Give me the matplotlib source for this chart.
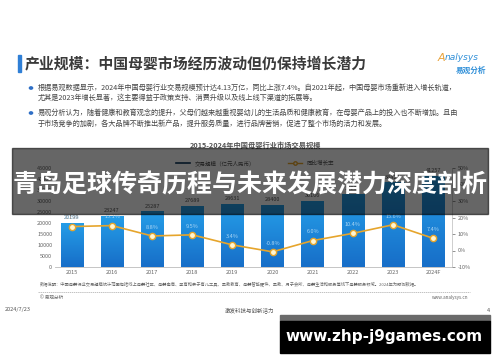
import matplotlib
matplotlib.use("Agg")
import matplotlib.pyplot as plt
from matplotlib.patches import Rectangle
from matplotlib.lines import Line2D
import numpy as np

plt.rcParams['font.family'] = ['Noto Sans CJK SC', 'DejaVu Sans']

# Data
years = ["2015", "2016", "2017", "2018", "2019", "2020", "2021", "2022", "2023", "2024F"]
scale = [20199, 23247, 25287, 27689, 28631, 28400, 30106, 33237, 38422, 41257]   # 亿元人民币
growth = [14.5, 15.1, 8.8, 9.5, 3.4, -0.8, 6.0, 10.4, 15.6, 7.4]               # %
left_ticks = [0, 5000, 10000, 15000, 20000, 25000, 30000, 35000, 40000, 45000]
right_ticks = [-10, 0, 10, 20, 30, 40, 50]

slide_title = "产业规模：中国母婴市场经历波动但仍保持增长潜力"
bullets = [
    ["根据易观数据显示，2024年中国母婴行业交易规模预计达4.13万亿，同比上涨7.4%。自2021年起，中国母婴市场重新进入增长轨道，",
     "尤其是2023年增长显著，这主要得益于政策支持、消费升级以及线上线下渠道的拓展等。"],
    ["易观分析认为，随着健康和教育观念的提升，父母们越来越重视婴幼儿的生活品质和健康教育，在母婴产品上的投入也不断增加。且由",
     "于市场竞争的加剧，各大品牌不断推出新产品，提升服务质量，进行品牌营销，促进了整个市场的活力和发展。"],
]
chart_title = "2015-2024年中国母婴行业市场交易规模"
legend_labels = ["交易规模（亿元人民币）", "同比增长率"]
note = ("数据说明：中国母婴行业交易规模统计范围包括线上母婴社区、母婴电商、孕育和亲子育儿工具、早教教育、"
        "母婴智能硬件、早教、月子会所、母婴生活和服务等线下母婴服务领域。2024年为预测数据。")
banner = "青岛足球传奇历程与未来发展潜力深度剖析"
site = "www.zhp-j9games.com"

W, H = 500, 362
fig = plt.figure(figsize=(5, 3.62), dpi=100)
fig.patch.set_facecolor("white")


def fx(px):
    return px / W


def fy(py):
    return 1 - py / H


# ---------- slide header ----------
fig.patches.append(Rectangle((fx(18), fy(72)), fx(3), 17 / H, transform=fig.transFigure,
                             color="#2f7fd6", zorder=2))
fig.text(fx(25), fy(63.5), slide_title, fontsize=10.7, fontweight="bold", color="#3a3a3a",
         va="center", ha="left")
fig.text(fx(445), fy(58), "A", fontsize=8, style="italic", color="#e8a23a",
         ha="right", va="center", family="DejaVu Sans")
fig.text(fx(445), fy(58), "nalysys", fontsize=6.5, style="italic", color="#2f8fd8",
         ha="left", va="center", family="DejaVu Sans")
fig.text(fx(486), fy(70), "易观分析", fontsize=5.5, fontweight="bold", color="#2f8fd8",
         ha="right", va="center")

ys = [[88, 98], [113, 124]]
for lines, yy in zip(bullets, ys):
    fig.patches.append(plt.Circle((fx(31), fy(yy[0])), 1.6 / W, transform=fig.transFigure,
                                  color="#2f6fc6"))
    for t, y in zip(lines, yy):
        fig.text(fx(38), fy(y), t, fontsize=5.15, color="#444444", va="center", ha="left")

# ---------- chart ----------
fig.text(fx(255), fy(145), chart_title, fontsize=5.2, fontweight="bold", color="#555555",
         ha="center", va="center")

ax = fig.add_axes([fx(55), fy(267), fx(452) - fx(55), (267 - 168) / H])
x = np.arange(len(years))
bars = ax.bar(x, scale, width=0.56, color="#1b87da", zorder=2)

grad = np.linspace(0, 1, 100).reshape(-1, 1)
cmap = matplotlib.colors.LinearSegmentedColormap.from_list("b", ["#176ec8", "#259ee8"])
for b in bars:
    im = ax.imshow(grad, extent=[b.get_x(), b.get_x() + b.get_width(), 0, b.get_height()],
                   origin="lower", aspect="auto", cmap=cmap, zorder=2)
    im.set_clip_path(b)

for xi, v in zip(x, scale):
    ax.annotate(str(v), (xi, v), xytext=(0, 2), textcoords="offset points",
                ha="center", va="bottom", fontsize=4, color="#555555")

ax.set_xlim(-0.42, 9.47)
ax.set_ylim(0, 45000)
ax.set_yticks(left_ticks)
ax.set_xticks(x)
ax.set_xticklabels(years)
ax.tick_params(labelsize=4, colors="#666666", length=0, pad=2)
for s in ["top", "right", "left"]:
    ax.spines[s].set_visible(False)
ax.spines["bottom"].set_color("#bbbbbb")
ax.spines["bottom"].set_linewidth(0.6)

ax2 = ax.twinx()
ax2.plot(x, growth, color="#e6a52c", lw=1.2, marker="o", ms=4.5, mfc="#fff6d2",
         mec="#e6a52c", mew=1.0, zorder=4)
for xi, g in zip(x, growth):
    ax2.annotate(f"{g:.1f}%", (xi, g), xytext=(0, 4.5), textcoords="offset points",
                 ha="center", va="bottom", fontsize=4, color="#a9d6f5")
ax2.set_ylim(-10, 50)
ax2.set_yticks(right_ticks)
ax2.set_yticklabels([f"{t}%" for t in right_ticks])
ax2.tick_params(labelsize=4, colors="#666666", length=2, width=0.5, pad=2)
for s in ["top", "left", "bottom"]:
    ax2.spines[s].set_visible(False)
ax2.spines["right"].set_color("#bbbbbb")
ax2.spines["right"].set_linewidth(0.5)

handles = [Line2D([], [], color="#123a5e", lw=1.2),
           Line2D([], [], color="#e6a52c", lw=1, marker="o", ms=2.5, mfc="white")]
fig.legend(handles, legend_labels, loc="center", bbox_to_anchor=(fx(255), fy(163)), ncol=2,
           frameon=False, fontsize=4, columnspacing=6, handlelength=2.5, labelcolor="#555555")

# ---------- footer ----------
fig.text(fx(40), fy(284), note, fontsize=3.05, color="#666666", ha="left", va="center")
fig.add_artist(Line2D([fx(38), fx(470)], [fy(292), fy(292)], transform=fig.transFigure,
                      color="#aaaaaa", lw=0.5, ls=(0, (2, 1))))
fig.text(fx(40), fy(297), "© 易观分析", fontsize=3.3, color="#666666", ha="left", va="center")
fig.text(fx(468), fy(297), "www.analysys.cn", fontsize=3.3, color="#666666", ha="right", va="center")
fig.text(fx(5), fy(310), "2024/7/23", fontsize=4, color="#555555", ha="left", va="center")
fig.text(fx(250), fy(310), "激发科技与创新活力", fontsize=4, color="#555555", ha="center", va="center")
fig.text(fx(490), fy(310), "4", fontsize=4, color="#555555", ha="right", va="center")

# ---------- overlay banner ----------
fig.patches.append(Rectangle((fx(12), fy(214)), fx(488) - fx(12), (214 - 148) / H,
                             transform=fig.transFigure, color="black", alpha=0.6, zorder=10))
fig.text(fx(250), fy(185), banner, fontsize=18, fontweight="bold", color="white",
         ha="center", va="center", zorder=11)

fig.patches.append(Rectangle((fx(280), fy(321)), fx(490) - fx(280), 6 / H,
                             transform=fig.transFigure, color="#6b6b6b", zorder=10))
fig.patches.append(Rectangle((fx(280), fy(353)), fx(490) - fx(280), 32 / H,
                             transform=fig.transFigure, color="black", zorder=10))
fig.text(fx(384), fy(337), site, fontsize=11, fontweight="bold", color="white",
         ha="center", va="center", zorder=11, family="DejaVu Sans")

fig.savefig("out.png", dpi=100)
